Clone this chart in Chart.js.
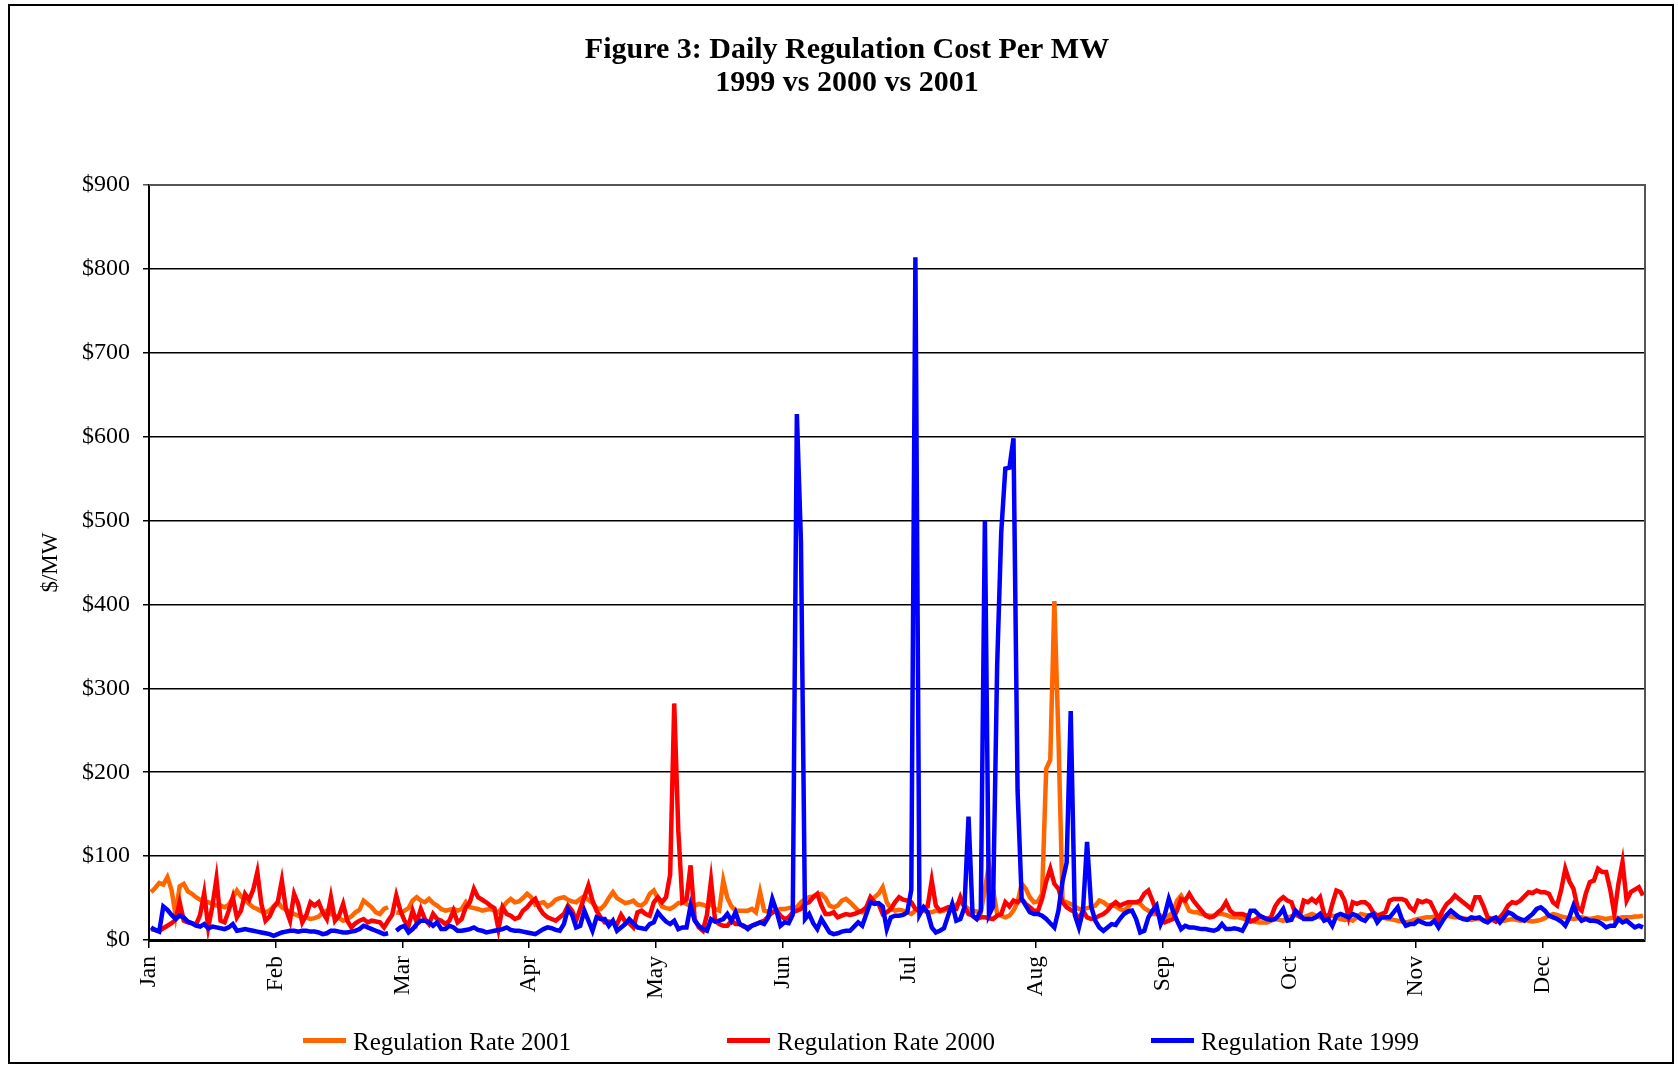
<!DOCTYPE html>
<html>
<head>
<meta charset="utf-8">
<title>Figure 3: Daily Regulation Cost Per MW</title>
<script src="https://cdn.jsdelivr.net/npm/chart.js@4.4.1/dist/chart.umd.min.js"></script>
<style>
  html, body { margin: 0; padding: 0; background: #ffffff; }
  #wrap { position: relative; width: 1678px; height: 1065px; }
</style>
</head>
<body>
<div id="wrap"><canvas id="chart" width="1678" height="1065"></canvas></div>
<script>
// Category axis: one slot per calendar day (leap-year length), month label every 31 days
const dayCount = 366;
const daysPerTick = 31;
const monthLabels = ['Jan', 'Feb', 'Mar', 'Apr', 'May', 'Jun', 'Jul', 'Aug', 'Sep', 'Oct', 'Nov', 'Dec'];

const seriesNames = ['Regulation Rate 2001', 'Regulation Rate 2000', 'Regulation Rate 1999'];
const seriesColors = ['#FF6600', '#FF0000', '#0000FF'];

// Daily regulation cost, $/MW (null = no Feb 29 in a non-leap year)
const rate2001 = [
  57, 62, 68, 66, 75, 60, 30, 64, 67, 58,
  55, 51, 48, 46, 45, 43, 41, 41, 39, 42,
  50, 59, 52, 48, 43, 39, 37, 34, 33, 35,
  40, 45, 39, 36, 34, 31, 29, 27, 27, 25,
  26, 28, 33, 35, 31, 29, 26, 23, 25, 28,
  33, 36, 47, 43, 39, 33, 31, 37, 39, null,
  33, 32, 35, 38, 47, 51, 47, 45, 49, 44,
  41, 37, 35, 36, 37, 35, 37, 45, 39, 38,
  37, 35, 36, 37, 35, 33, 39, 45, 49, 45,
  46, 50, 55, 51, 42, 44, 45, 40, 43, 48,
  50, 51, 48, 46, 45, 49, 52, 48, 44, 38,
  37, 42, 50, 57, 50, 47, 44, 45, 47, 42,
  41, 45, 55, 59, 50, 40, 38, 37, 40, 44,
  45, 43, 40, 41, 43, 42, 40, 43, 37, 35,
  71, 50, 40, 35, 35, 35, 35, 37, 33, 57,
  35, 34, 33, 35, 37, 37, 38, 39, 39, 45,
  49, 51, 52, 54, 55, 50, 41, 39, 41, 47,
  49, 45, 40, 35, 33, 39, 47, 51, 55, 63,
  45, 37, 35, 36, 35, 33, 31, 35, 37, 35,
  33, 33, 35, 34, 35, 37, 39, 42, 45, 41,
  37, 35, 34, 33, 60, 90, 60, 31, 29, 27,
  29, 35, 45, 67, 61, 51, 45, 46, 55, 204,
  215, 404, 241, 47, 45, 43, 40, 37, 37, 38,
  39, 41, 47, 45, 41, 42, 40, 37, 35, 39,
  45, 45, 43, 38, 35, 31, 31, 29, 27, 29,
  33, 47, 53, 45, 35, 33, 33, 31, 30, 29,
  29, 31, 31, 30, 28, 27, 27, 26, 24, 23,
  22, 21, 21, 21, 23, 25, 24, 23, 27, 28,
  30, 28, 27, 29, 31, 29, 27, 28, 30, 29,
  27, 25, 24, 25, 23, 27, 31, 30, 29, 28,
  27, 27, 26, 25, 24, 23, 22, 21, 22, 24,
  25, 26, 27, 27, 28, 27, 28, 29, 28, 27,
  27, 26, 25, 24, 25, 25, 24, 23, 24, 23,
  22, 23, 24, 25, 24, 23, 24, 23, 22, 23,
  24, 26, 29, 31, 30, 28, 27, 26, 25, 26,
  27, 26, 25, 26, 27, 26, 25, 26, 27, 26,
  27, 27, 27, 28, 28, 29
];

const rate2000 = [
  13, 12, 11, 14, 17, 20, 24, 45, 23, 21,
  20, 18, 30, 56, 15, 40, 73, 23, 21, 35,
  51, 27, 35, 55, 48, 60, 81, 43, 23, 28,
  39, 45, 71, 37, 23, 55, 43, 21, 30, 45,
  41, 45, 33, 25, 51, 23, 29, 43, 23, 15,
  20, 23, 25, 21, 23, 22, 21, 15, 23, 30,
  53, 35, 23, 17, 35, 21, 37, 25, 19, 31,
  25, 23, 19, 23, 35, 21, 25, 39, 45, 61,
  51, 48, 45, 41, 38, 13, 39, 31, 29, 25,
  27, 35, 39, 45, 49, 38, 31, 27, 25, 23,
  27, 31, 41, 35, 23, 37, 51, 65, 47, 35,
  27, 21, 22, 21, 19, 30, 22, 20, 15, 33,
  35, 31, 29, 45, 51, 45, 51, 78, 282, 130,
  45, 48, 89, 25, 15, 11, 30, 71, 23, 19,
  17, 17, 23, 19, 19, 16, 15, 17, 19, 21,
  23, 28, 33, 35, 29, 25, 27, 33, 35, 37,
  43, 45, 51, 55, 41, 31, 31, 33, 27, 29,
  31, 30, 31, 33, 35, 39, 51, 45, 43, 31,
  33, 37, 45, 51, 48, 47, 45, 37, 35, 39,
  40, 71, 41, 35, 37, 39, 37, 37, 51, 39,
  31, 29, 25, 27, 27, 26, 25, 29, 31, 45,
  40, 47, 45, 49, 43, 39, 35, 35, 49, 70,
  85, 67, 61, 45, 39, 36, 33, 25, 35, 27,
  25, 26, 29, 31, 35, 41, 45, 41, 43, 45,
  45, 45, 47, 55, 59, 47, 33, 27, 21, 23,
  25, 35, 49, 47, 55, 47, 41, 35, 29, 27,
  28, 33, 37, 45, 35, 31, 31, 31, 29, 22,
  24, 27, 27, 25, 27, 40, 47, 51, 47, 45,
  31, 28, 47, 45, 49, 45, 51, 31, 25, 43,
  59, 57, 47, 27, 45, 43, 45, 45, 41, 33,
  29, 31, 33, 47, 49, 49, 49, 47, 39, 35,
  47, 45, 47, 45, 35, 25, 35, 43, 47, 53,
  49, 45, 41, 37, 51, 51, 40, 27, 25, 22,
  27, 33, 41, 45, 44, 47, 52, 57, 56, 59,
  57, 57, 55, 45, 41, 60, 85, 70, 61, 39,
  35, 55, 69, 71, 85, 81, 81, 60, 31, 67,
  93, 47, 57, 60, 63, 53
];

const rate1999 = [
  15, 12, 10, 40, 36, 30, 25, 29, 27, 22,
  20, 17, 16, 19, 14, 16, 15, 14, 13, 15,
  19, 11, 12, 13, 12, 11, 10, 9, 8, 7,
  5, 7, 9, 10, 11, 11, 10, 11, 11, 10,
  10, 9, 7, 8, 11, 11, 10, 9, 9, 10,
  11, 13, 17, 15, 13, 11, 9, 7, 8, null,
  11, 15, 17, 9, 13, 19, 23, 23, 21, 17,
  21, 13, 13, 17, 15, 11, 11, 12, 13, 15,
  12, 11, 9, 10, 11, 12, 13, 15, 12, 11,
  11, 10, 9, 8, 7, 10, 13, 15, 14, 12,
  11, 19, 37, 30, 15, 17, 35, 23, 11, 27,
  25, 25, 17, 23, 11, 15, 19, 25, 20, 15,
  14, 13, 19, 21, 33, 27, 22, 19, 23, 13,
  15, 15, 41, 23, 17, 13, 11, 25, 22, 23,
  25, 31, 23, 33, 19, 17, 13, 17, 19, 21,
  19, 27, 49, 35, 17, 21, 20, 30, 627, 475,
  25, 31, 20, 13, 25, 17, 9, 7, 8, 10,
  11, 11, 16, 21, 17, 31, 45, 43, 44, 40,
  13, 27, 29, 29, 30, 33, 60, 814, 30, 39,
  33, 15, 9, 11, 14, 29, 43, 23, 25, 39,
  147, 29, 25, 35, 500, 30, 40, 327, 486, 562,
  563, 598, 178, 49, 41, 33, 31, 31, 29, 25,
  20, 15, 35, 70, 92, 273, 30, 15, 35, 117,
  40, 23, 15, 11, 15, 19, 18, 25, 31, 34,
  35, 25, 9, 11, 27, 35, 41, 19, 30, 49,
  35, 23, 13, 17, 15, 15, 14, 13, 13, 12,
  11, 13, 19, 13, 13, 14, 13, 11, 20, 35,
  35, 30, 27, 25, 24, 25, 30, 37, 23, 24,
  35, 30, 25, 25, 25, 27, 31, 23, 25, 17,
  29, 31, 29, 27, 31, 29, 25, 23, 29, 31,
  21, 27, 27, 27, 33, 39, 25, 17, 19, 19,
  23, 21, 19, 19, 23, 15, 23, 30, 35, 31,
  27, 25, 24, 27, 26, 27, 23, 21, 25, 27,
  21, 27, 33, 31, 27, 25, 23, 27, 31, 37,
  39, 35, 29, 27, 25, 22, 17, 27, 41, 29,
  23, 25, 23, 23, 22, 19, 15, 17, 17, 25,
  21, 23, 19, 15, 17, 15
];

const seriesValues = [rate2001, rate2000, rate1999];
const serifFamily = "'Liberation Serif', 'Times New Roman', 'DejaVu Serif', serif";

// Each day sits in the middle of its category slot
function toPoints(values) {
  return values.map((v, i) => ({ x: i + 0.5, y: v }));
}

// Outer frame, plot-area border and a wide-spaced legend under the axis
const frameAndLegend = {
  id: 'frameAndLegend',
  afterDraw(chart) {
    const { ctx, chartArea } = chart;
    ctx.save();
    // plot-area border (top and right sides)
    ctx.strokeStyle = '#555555';
    ctx.lineWidth = 2;
    ctx.beginPath();
    ctx.moveTo(chartArea.left, chartArea.top);
    ctx.lineTo(chartArea.right, chartArea.top);
    ctx.lineTo(chartArea.right, chartArea.bottom);
    ctx.stroke();
    // outer chart frame
    ctx.strokeStyle = '#000000';
    ctx.lineWidth = 2;
    ctx.strokeRect(9, 5, 1664, 1058);
    // legend
    const startX = 303, stepX = 424, midY = 1042;
    ctx.font = '25px ' + serifFamily;
    ctx.textBaseline = 'middle';
    ctx.textAlign = 'left';
    chart.data.datasets.forEach((ds, k) => {
      const x = startX + k * stepX;
      ctx.fillStyle = ds.borderColor;
      ctx.fillRect(x, midY - 4, 43, 5);
      ctx.fillStyle = '#000000';
      ctx.fillText(ds.label, x + 50, midY + 1);
    });
    ctx.restore();
  }
};

new Chart(document.getElementById('chart'), {
  type: 'line',
  data: {
    datasets: seriesValues.map((vals, k) => ({
      label: seriesNames[k],
      data: toPoints(vals),
      borderColor: seriesColors[k],
      backgroundColor: seriesColors[k],
      borderWidth: 4.5,
      pointRadius: 0,
      tension: 0,
      spanGaps: false,
      order: 3 - k
    }))
  },
  options: {
    responsive: false,
    animation: false,
    devicePixelRatio: 1,
    layout: { padding: { left: 49, right: 33, top: 0, bottom: 65 } },
    plugins: {
      legend: { display: false },
      tooltip: { enabled: false },
      title: {
        display: true,
        text: ['Figure 3: Daily Regulation Cost Per MW', '1999 vs 2000 vs 2001'],
        color: '#000000',
        font: { family: serifFamily, size: 30, weight: 'bold', lineHeight: 1.1 },
        padding: { top: 34, bottom: 85 }
      }
    },
    scales: {
      x: {
        type: 'linear',
        min: 0,
        max: dayCount,
        afterBuildTicks(scale) {
          scale.ticks = monthLabels.map((m, k) => ({ value: k * daysPerTick }));
        },
        afterFit(scale) { scale.height = 60; },
        ticks: {
          autoSkip: false,
          minRotation: 90,
          maxRotation: 90,
          padding: 8,
          color: '#000000',
          font: { family: serifFamily, size: 23.5 },
          callback: (v) => monthLabels[Math.round(v / daysPerTick)]
        },
        grid: { drawOnChartArea: false, drawTicks: true, tickLength: 8, color: '#000000', lineWidth: 1.5 },
        border: { display: true, color: '#000000', width: 3 }
      },
      y: {
        min: 0,
        max: 900,
        afterFit(scale) { scale.width = 100; },
        ticks: {
          stepSize: 100,
          padding: 13,
          color: '#000000',
          font: { family: serifFamily, size: 24 },
          callback: (v) => '$' + v
        },
        grid: {
          color: (c) => (c.tick && c.tick.value === 900 ? '#555555' : '#000000'),
          lineWidth: 1.5,
          tickLength: 6
        },
        border: { display: true, color: '#000000', width: 2 },
        title: {
          display: true,
          text: '$/MW',
          color: '#000000',
          font: { family: serifFamily, size: 23 },
          padding: { top: -12, bottom: 0 }
        }
      }
    }
  },
  plugins: [frameAndLegend]
});
</script>
</body>
</html>
